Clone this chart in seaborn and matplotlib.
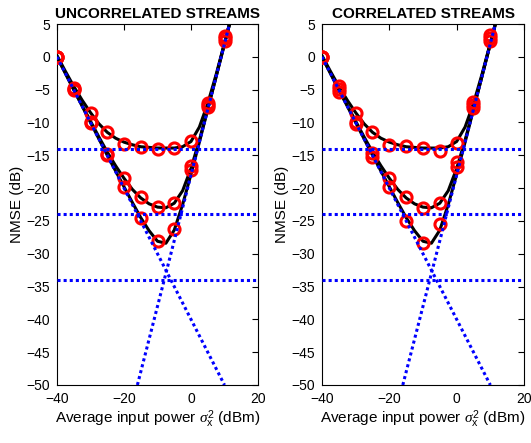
import matplotlib
matplotlib.use("Agg")
import matplotlib.pyplot as plt
import seaborn as sns
import pandas as pd

sns.set_style("white")
plt.rcParams["font.family"] = ["Liberation Sans", "DejaVu Sans"]
plt.rcParams["mathtext.fontset"] = "custom"
plt.rcParams["mathtext.it"] = "Liberation Serif:italic"
plt.rcParams["mathtext.rm"] = "Liberation Sans"
plt.rcParams["text.color"] = "black"
plt.rcParams["axes.labelcolor"] = "black"

# smooth (theory) curves
curve_x = [-40, -37.5, -35, -32.5, -30, -27.5, -25, -22.5, -20, -17.5, -15, -12.5,
           -10, -7.5, -5, -2.5, 0, 2.5, 5, 7.5, 10, 12.5]
curve_top = [0.2, -2.2, -4.5, -6.6, -8.5, -10.2, -11.5, -12.4, -13.0, -13.4, -13.7, -13.8,
             -13.9, -13.9, -13.9, -13.7, -12.9, -10.7, -7.1, -2.7, 2.1, 7.0]
curve_mid = [0.0, -2.5, -5.0, -7.4, -9.8, -12.2, -14.5, -16.6, -18.5, -20.2, -21.5, -22.4,
             -22.9, -23.0, -22.3, -20.4, -17.0, -12.7, -7.9, -3.0, 2.0, 7.0]
curve_bot = [0.0, -2.5, -5.0, -7.5, -10.0, -12.5, -15.0, -17.4, -19.8, -22.2, -24.5, -26.5,
             -28.1, -28.4, -26.4, -22.5, -17.9, -13.0, -8.0, -3.0, 2.0, 7.0]

# simulated points (red circles)
sim_x = [-40, -35, -30, -25, -20, -15, -10, -5, 0, 5, 10]
unc_top = [0.0, -4.7, -8.5, -11.4, -13.3, -13.7, -14.0, -13.95, -12.9, -7.0, 3.2]
unc_mid = [0.0, -4.9, -9.9, -14.8, -18.5, -21.4, -22.95, -22.2, -16.7, -7.3, 2.8]
unc_bot = [0.0, -5.0, -10.1, -15.0, -19.9, -24.6, -28.0, -26.2, -17.3, -7.6, 2.4]
cor_top = [0.0, -4.5, -8.5, -11.4, -13.4, -13.6, -13.95, -14.3, -13.2, -6.9, 3.3]
cor_mid = [0.0, -4.9, -9.9, -14.7, -18.5, -21.4, -23.1, -22.2, -16.0, -7.4, 2.8]
cor_bot = [0.0, -5.3, -10.2, -15.2, -19.9, -25.0, -28.3, -25.5, -16.8, -7.8, 2.4]

# asymptotes (blue dotted)
floors = [-14, -24, -34]
linear_x = [-40, 10]
linear_y = [0, -50]
dist_x = [-16, 11.5]
dist_y = [-50, 5]

titles = ["UNCORRELATED STREAMS", "CORRELATED STREAMS"]
sims = [(unc_top, unc_mid, unc_bot), (cor_top, cor_mid, cor_bot)]

fig = plt.figure(figsize=(5.31, 4.43), dpi=100)
ax1 = fig.add_axes([57 / 531, 58 / 443, 201 / 531, 361 / 443])
ax2 = fig.add_axes([322 / 531, 58 / 443, 202 / 531, 361 / 443])

for ax, title, sim in zip([ax1, ax2], titles, sims):
    for cy in [curve_top, curve_mid, curve_bot]:
        df = pd.DataFrame({"x": curve_x, "y": cy})
        sns.lineplot(data=df, x="x", y="y", ax=ax, color="black", lw=2.2,
                     sort=False, zorder=2)
    for sy in sim:
        df = pd.DataFrame({"x": sim_x, "y": sy})
        sns.lineplot(data=df, x="x", y="y", ax=ax, linestyle="", marker="o",
                     markersize=8, markerfacecolor="none", markeredgecolor="red",
                     markeredgewidth=2.2, color="red", zorder=3)
    for fl in floors:
        ax.axhline(fl, color="blue", lw=2.2, dashes=(1, 1), zorder=4)
    sns.lineplot(x=linear_x, y=linear_y, ax=ax, color="blue", lw=2.2,
                 zorder=4).lines[-1].set_dashes((1, 1))
    sns.lineplot(x=dist_x, y=dist_y, ax=ax, color="blue", lw=2.2,
                 zorder=4).lines[-1].set_dashes((1, 1))

    ax.set_xlim(-40, 20)
    ax.set_ylim(-50, 5)
    ax.set_xticks([-40, -20, 0, 20])
    ax.set_yticks(range(-50, 6, 5))
    ax.tick_params(direction="in", top=True, right=True, length=4, width=0.8,
                   labelsize=10, pad=5, colors="black")
    for sp in ax.spines.values():
        sp.set_color("black")
        sp.set_linewidth(0.8)
    ax.set_title(title, fontsize=11, fontweight="bold", pad=4, color="black")
    ax.set_xlabel(r"Average input power $\sigma_{\mathrm{x}}^{\mathrm{2}}$ (dBm)",
                  fontsize=11, labelpad=2)
    ax.set_ylabel("NMSE (dB)", fontsize=11, labelpad=2)

fig.savefig("out.png", dpi=100)
